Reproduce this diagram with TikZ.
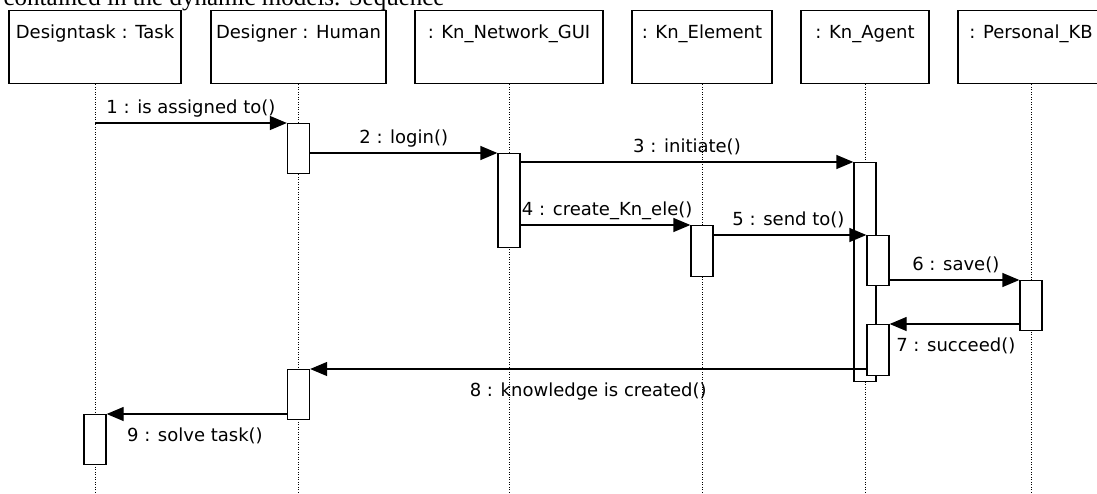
\documentclass[tikz,border=0pt]{standalone}
\usepackage{fontspec}
\setmainfont{DejaVu Sans}
\newfontfamily\capfont{Liberation Serif}
\usetikzlibrary{arrows.meta,positioning}

\begin{document}
\begin{tikzpicture}[x = 1pt, y = -1pt, line width = 1.3pt,
obj/.style = {draw, shape = rectangle, minimum height = 73pt, text height = 14pt, text depth = 31pt, inner ysep = 14pt, inner xsep = 0pt, anchor = north, font = \fontsize{18}{21}\selectfont},
act/.style = {draw, fill = white, shape = rectangle, minimum width = 22pt, inner sep = 0pt, anchor = north},
msg/.style = {-{Triangle[length = 17pt, width = 14pt]}},
lbl/.style = {anchor = base, inner sep = 0pt, font = \fontsize{18}{21}\selectfont},
life/.style = {line width = 1pt, dash pattern = on 1pt off 1.5pt}]
\useasboundingbox (0,0) rectangle (1097,493);
\node[anchor = base west, inner sep = 0pt, font = \capfont\fontsize{25}{30}\selectfont] (0) at (3,5) {contained in the dynamic models. Sequence};

\node[obj, minimum width = 172pt] (1) at (95,10) {Designtask : Task};
\node[obj, minimum width = 175pt] (2) at (298.5,10) {Designer : Human};
\node[obj, minimum width = 188pt] (3) at (509,10) {: Kn\_Network\_GUI};
\node[obj, minimum width = 140pt] (4) at (702,10) {: Kn\_Element};
\node[obj, minimum width = 128pt] (5) at (865,10) {: Kn\_Agent};
\node[obj, minimum width = 146pt] (6) at (1031,10) {: Personal\_KB};
\foreach \n in {1,...,6}
\draw[life] (\n.south) -- (\n.south |- 0,493);

\node[act, minimum height = 50pt] (11) at (1.south |- 0,414) {};
\node[act, minimum height = 50pt] (21) at (2.south |- 0,123) {};
\node[act, minimum height = 50pt] (22) at (2.south |- 0,369) {};
\node[act, minimum height = 94pt] (31) at (3.south |- 0,153) {};
\node[act, minimum height = 51pt] (41) at (4.south |- 0,225) {};
\node[act, minimum height = 219pt] (51) at (5.south |- 0,162) {};
\node[act, minimum height = 50pt, xshift = 13pt] (52) at (5.south |- 0,235) {};
\node[act, minimum height = 51pt, xshift = 13pt] (53) at (5.south |- 0,324) {};
\node[act, minimum height = 50pt] (61) at (6.south |- 0,280) {};

\draw[msg] (1.south |- 21.north) -- (21.north west) node[lbl, pos = .50, yshift = 10pt] (m1) {1 : is assigned to()};
\draw[msg] (21.east |- 31.north) -- (31.north west) node[lbl, pos = .50, yshift = 10pt] (m2) {2 : login()};
\draw[msg] (31.east |- 51.north) -- (51.north west) node[lbl, pos = .50, yshift = 10pt] (m3) {3 : initiate()};
\draw[msg] (31.east |- 41.north) -- (41.north west) node[lbl, pos = .51, yshift = 10pt] (m4) {4 : create\_Kn\_ele()};
\draw[msg] (41.east |- 52.north) -- (52.north west) node[lbl, pos = .49, yshift = 10pt] (m5) {5 : send to()};
\draw[msg] (52.east |- 61.north) -- (61.north west) node[lbl, pos = .51, yshift = 10pt] (m6) {6 : save()};
\draw[msg] (61.west |- 53.north) -- (53.north east) node[lbl, pos = .49, yshift = -27pt] (m7) {7 : succeed()};
\draw[msg] (53.west |- 22.north) -- (22.north east) node[lbl, pos = .50, yshift = -27pt] (m8) {8 : knowledge is created()};
\draw[msg] (22.west |- 11.north) -- (11.north east) node[lbl, pos = .51, yshift = -27pt] (m9) {9 : solve task()};
\end{tikzpicture}
\end{document}
